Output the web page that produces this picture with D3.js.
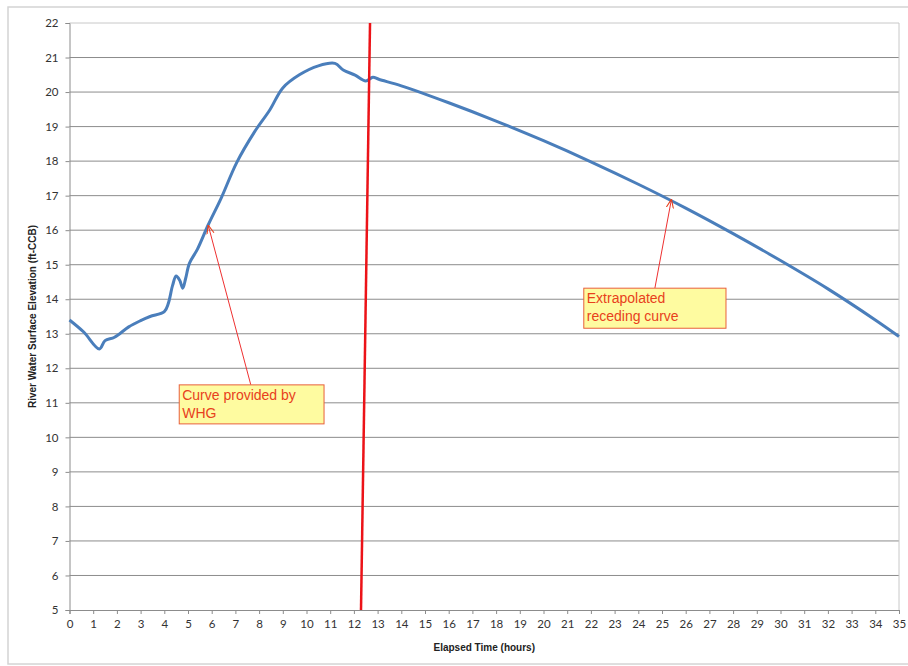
<html>
<head>
<style>
  body { margin: 0; background: #fff; }
  .grid line { stroke: #8c8c8c; stroke-width: 1px; }
  .axis text { font-family: Lato, "Liberation Sans", sans-serif; font-size: 11.5px; fill: #333; }
  .axis path, .axis line { stroke: #8c8c8c; }
  .label { font-family: "Liberation Sans", Arial, sans-serif; font-size: 10px; font-weight: bold; fill: #222; }
  .note { font-family: "Liberation Sans", Arial, sans-serif; font-size: 14px; fill: #e8401c; }
</style>
<script src="https://cdnjs.cloudflare.com/ajax/libs/d3/7.8.5/d3.min.js"></script>
</head>
<body>
<script>
// elapsed time (hours) and river level (ft-CCB)
var hours  = [0, 0.6, 1.26, 1.5, 1.9, 2.5, 3, 3.4, 4, 4.17, 4.35, 4.5, 4.65, 4.78, 4.9, 5.06, 5.4, 5.85, 6.4, 7.05, 7.8, 8.45, 9, 9.7, 10.5, 11.2, 11.55, 12.05, 12.5, 12.8, 13.05, 14, 16, 18, 20, 22, 24, 26, 28, 30, 32, 34, 35];
var levels = [13.4, 13.05, 12.56, 12.8, 12.9, 13.2, 13.38, 13.5, 13.64, 13.88, 14.4, 14.67, 14.55, 14.32, 14.6, 15.04, 15.45, 16.15, 16.93, 17.95, 18.84, 19.48, 20.12, 20.5, 20.76, 20.83, 20.64, 20.49, 20.32, 20.43, 20.37, 20.18, 19.69, 19.16, 18.59, 17.98, 17.33, 16.64, 15.9, 15.12, 14.3, 13.4, 12.92];

var xTicks = d3.range(0, 36, 1);
var yTicks = d3.range(5, 23, 1);

// the red cut line (slightly tilted, drawn by hand in the original)
var cutHours = [12.3, 12.68];
var cutLevels = [5, 22];

var notes = [
  { lines: ["Curve provided by", "WHG"], box: [4.63, 11.52, 10.74, 10.39], from: [7.65, 11.52], to: [5.85, 16.15] },
  { lines: ["Extrapolated", "receding curve"], box: [21.7, 14.32, 27.7, 13.16], from: [24.7, 14.32], to: [25.4, 16.9] }
];

var width = 908, height = 666;
var margin = { left: 69.5, right: 9, top: 23, bottom: 56 };

var svg = d3.select("body").append("svg")
  .attr("width", width)
  .attr("height", height);

svg.append("rect")
  .attr("x", 8).attr("y", 7)
  .attr("width", 920).attr("height", 657)
  .attr("fill", "none")
  .attr("stroke", "#d4d4d4")
  .attr("stroke-width", 1.5);

var x = d3.scaleLinear().domain([0, 35]).range([margin.left, width - margin.right]);
var y = d3.scaleLinear().domain([5, 22]).range([height - margin.bottom, margin.top]);

// horizontal gridlines
svg.append("g").attr("class", "grid")
  .selectAll("line")
  .data(yTicks.filter(d => d > 5))
  .enter().append("line")
  .attr("x1", x(0)).attr("x2", x(35))
  .attr("y1", d => y(d)).attr("y2", d => y(d))
  .style("stroke", d => d == 22 ? "#c8c8c8" : null);

// right border of plot
svg.append("line")
  .attr("x1", x(35)).attr("x2", x(35))
  .attr("y1", y(22)).attr("y2", y(5))
  .attr("stroke", "#c8c8c8");

svg.append("g").attr("class", "axis")
  .attr("transform", "translate(0," + y(5) + ")")
  .call(d3.axisBottom(x).tickValues(xTicks).tickSize(4).tickPadding(6).tickFormat(d3.format("d")));

svg.append("g").attr("class", "axis")
  .attr("transform", "translate(" + x(0) + ",0)")
  .call(d3.axisLeft(y).tickValues(yTicks).tickSize(4).tickPadding(7).tickFormat(d3.format("d")));

svg.selectAll(".axis .domain").attr("stroke", "#8c8c8c");

var line = d3.line()
  .x((d, i) => x(hours[i]))
  .y(d => y(d))
  .curve(d3.curveCatmullRom.alpha(0.5));

svg.append("path")
  .datum(levels)
  .attr("d", line)
  .attr("fill", "none")
  .attr("stroke", "#4a7ebb")
  .attr("stroke-width", 3)
  .attr("stroke-linejoin", "round");

svg.append("line")
  .attr("x1", x(cutHours[0])).attr("y1", y(cutLevels[0]))
  .attr("x2", x(cutHours[1])).attr("y2", y(cutLevels[1]))
  .attr("stroke", "#ec1318")
  .attr("stroke-width", 2.5);

// arrow head marker
svg.append("defs").append("marker")
  .attr("id", "arrow")
  .attr("viewBox", "0 -5 10 10")
  .attr("refX", 10).attr("refY", 0)
  .attr("markerWidth", 9).attr("markerHeight", 9)
  .attr("markerUnits", "userSpaceOnUse")
  .attr("orient", "auto")
  .append("path")
  .attr("d", "M0,-4L10,0L0,4")
  .attr("fill", "none")
  .attr("stroke", "#e8401c")
  .attr("stroke-width", 1.2);

notes.forEach(function (n) {
  svg.append("line")
    .attr("x1", x(n.from[0])).attr("y1", y(n.from[1]))
    .attr("x2", x(n.to[0])).attr("y2", y(n.to[1]))
    .attr("stroke", "#ee3030")
    .attr("stroke-width", 1)
    .attr("marker-end", "url(#arrow)");

  svg.append("rect")
    .attr("x", x(n.box[0])).attr("y", y(n.box[1]))
    .attr("width", x(n.box[2]) - x(n.box[0]))
    .attr("height", y(n.box[3]) - y(n.box[1]))
    .attr("fill", "#fefba0")
    .attr("stroke", "#e8603c")
    .attr("stroke-width", 1);

  svg.append("text")
    .attr("class", "note")
    .selectAll("tspan")
    .data(n.lines)
    .enter().append("tspan")
    .attr("x", x(n.box[0]) + 3)
    .attr("y", (d, i) => y(n.box[1]) + 15 + i * 18)
    .text(d => d);
});

svg.append("text")
  .attr("class", "label")
  .attr("text-anchor", "middle")
  .attr("x", (x(0) + x(35)) / 2)
  .attr("y", 651)
  .text("Elapsed Time (hours)");

svg.append("text")
  .attr("class", "label")
  .attr("text-anchor", "middle")
  .attr("transform", "translate(36," + (y(5) + y(22)) / 2 + ") rotate(-90)")
  .text("River Water Surface Elevation (ft-CCB)");
</script>
</body>
</html>
